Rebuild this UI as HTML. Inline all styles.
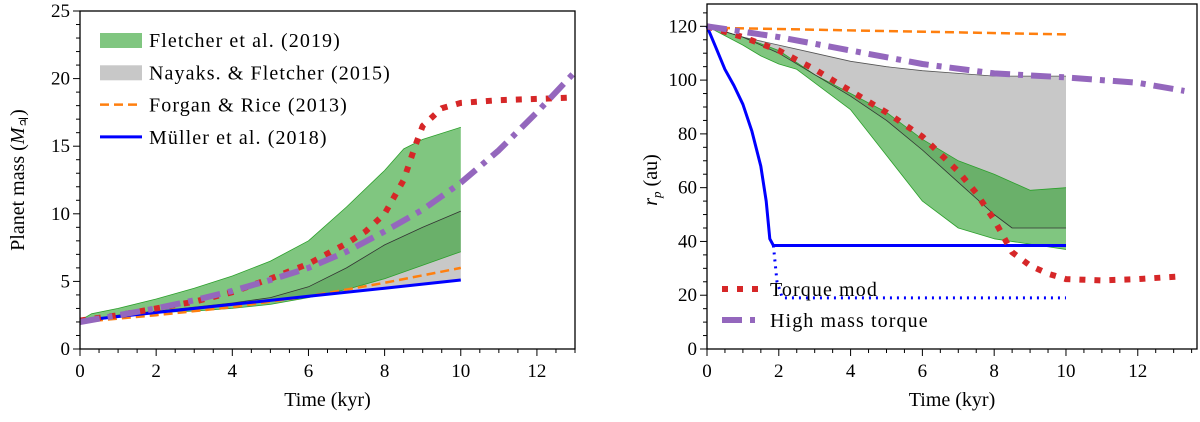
<!DOCTYPE html>
<html><head><meta charset="utf-8"><style>
body{margin:0;background:#fff}
svg{display:block;font-family:"Liberation Serif",serif}
</style></head><body>
<svg id="c" width="1200" height="422" viewBox="0 0 1200 422"></svg>
<script>
// ---- Left panel data (planet mass) ----
const LG_T=[0,0.3,1,2,3,4,5,6,7,8,8.5,9,10];
const LG_UP=[2.1,2.6,3.0,3.7,4.5,5.4,6.5,8.0,10.5,13.2,14.8,15.5,16.4];
const LG_LO_T=[0,1,2,3,4,5,6,7,8,9,10];
const LG_LO=[1.9,2.4,2.7,2.8,3.0,3.3,3.8,4.4,5.2,6.2,7.2];
const LGR_T=[0,1,2,3,4,5,6,7,8,9,10];
const LGR_UP=[2.0,2.5,2.8,3.1,3.4,3.8,4.6,6.0,7.7,9.0,10.2];
const MUL_T=[0,2,4,6,8,10];
const MUL=[2.1,2.7,3.3,3.9,4.5,5.1];
const FOR_T=[0,2,4,6,8,10];
const FOR=[2.0,2.5,3.1,3.9,4.9,6.0];
const RED_T=[0,1,2,3,4,5,6,7,7.5,8,8.5,8.8,9,9.5,10,11,12,13];
const RED=[2.1,2.5,3.0,3.5,4.2,5.2,6.3,7.8,8.7,10.0,12.5,15,16.5,17.8,18.2,18.4,18.5,18.6];
const PUR_T=[0,1,2,3,4,5,6,7,8,9,10,11,12,13];
const PUR=[2,2.5,3,3.6,4.3,5.1,6,7.2,8.7,10.3,12.3,14.7,17.5,20.5];
const L_XTICKS=[0,2,4,6,8,10,12];
const L_YTICKS=[0,5,10,15,20,25];
// ---- Right panel data (radius) ----
const RGR_T=[0,1,2,3,4,5,6,7,8,9,10];
const RGR_UP=[120,116,113,110,107,105,103.5,102.5,101.5,101.5,101.5];
const RGR_LO_T=[0,1,2,3,4,5,6,7,8,8.5,10];
const RGR_LO=[120,116,110,102,94,85,74,62,50,45,45];
const RG_UP_T=[0,1,2,3,4,5,6,7,8,9,10];
const RG_UP=[120,116,111,102,95,88,78,70,65,59,60];
const RG_LO_T=[0,1,1.5,2,2.5,3,4,5,6,7,8,9,10];
const RG_LO=[120,113,109,106,104,99,89,72,55,45,41,39,37];
const RFOR_T=[0,10];
const RFOR=[119.5,117];
const RPUR_T=[0,2,4,6,8,10,12,13.3];
const RPUR=[120,116,111,106,102.5,101,99,96];
const RRED_T=[0,1,2,3,4,5,6,7,7.5,8,8.5,9,9.5,10,11,12,13.2];
const RRED=[120,116,111,104,96,88,79,66,58,48,36,31,28,26,25.5,26,27];
const RBLU_T=[0,0.25,0.5,0.75,1,1.25,1.5,1.65,1.75,1.85,10];
const RBLU=[120,112,104,98,91,81,68,55,41,38.5,38.5];
const RBD_T=[1.85,1.95,2.1,10];
const RBD=[38.5,25,19,19];
const R_XTICKS=[0,2,4,6,8,10,12];
const R_YTICKS=[0,20,40,60,80,100,120];

const S=document.getElementById('c'),NS='http://www.w3.org/2000/svg';
function mk(t,a,p){const e=document.createElementNS(NS,t);for(const k in a)e.setAttribute(k,a[k]);(p||S).appendChild(e);return e;}
function panel(x0,x1,y0,y1,xmax,ymax){return{x:v=>x0+(x1-x0)*v/xmax,y:v=>y1-(y1-y0)*v/ymax,x0,x1,y0,y1};}
const L=panel(80,575,11,349,13,25);
const R=panel(707,1197,4,349,13.65,128.3);
function pts(A,T,V){return T.map((t,i)=>A.x(t).toFixed(1)+','+A.y(V[i]).toFixed(1));}
function band(A,Tu,U,Tl,Lo,fill,op,name){
  const p=pts(A,Tu,U).concat(pts(A,Tl,Lo).reverse());
  const e=mk('polygon',{points:p.join(' '),fill:fill,'fill-opacity':op});
  
  
}
function line(A,T,V,st,name){
  const e=mk('polyline',Object.assign({points:pts(A,T,V).join(' '),fill:'none','stroke-linejoin':'round'},st));
  
  
}
function axes(A,xt,yt,ymax,minorY,pfx){
  const g=mk('g',{});
  
  
  mk('rect',{x:A.x0,y:A.y0,width:A.x1-A.x0,height:A.y1-A.y0,fill:'none',stroke:'#000','stroke-width':1.3},g);
  for(let v=0;v<=13.6;v+=0.5){const x=A.x(v);if(x>A.x1)break;const maj=Math.abs(v%2)<1e-6;mk('line',{x1:x,x2:x,y1:A.y1,y2:A.y1+(maj?7:4),stroke:'#000','stroke-width':1},g);}
  xt.forEach(v=>{const t=mk('text',{x:A.x(v),y:A.y1+28,'text-anchor':'middle','font-size':19},g);t.textContent=v;
    });
  for(let v=0;v<=ymax;v+=minorY){const y=A.y(v);if(y<A.y0)break;const maj=yt.includes(+v.toFixed(3));mk('line',{x1:A.x0,x2:A.x0-(maj?7:4),y1:y,y2:y,stroke:'#000','stroke-width':1},g);}
  yt.forEach(v=>{const t=mk('text',{x:A.x0-10,y:A.y(v)+6,'text-anchor':'end','font-size':19},g);t.textContent=v;
    });
  const xl=mk('text',{x:(A.x0+A.x1)/2,y:A.y1+57,'text-anchor':'middle','font-size':20},g);xl.textContent='Time (kyr)';
  
}
// Left panel
band(L,LGR_T,LGR_UP,MUL_T,MUL,'#c8c8c8',1,'nayak-band');
band(L,LG_T,LG_UP,LG_LO_T,LG_LO,'rgb(44,160,44)',0.6,'fletcher-band');
line(L,LG_T,LG_UP,{stroke:'#2ca02c','stroke-width':0.8},'fletcher-upper-edge');
line(L,LG_LO_T,LG_LO,{stroke:'#2ca02c','stroke-width':0.8},'fletcher-lower-edge');
line(L,LGR_T,LGR_UP,{stroke:'#333','stroke-width':0.8},'nayak-upper-edge');
line(L,FOR_T,FOR,{stroke:'#ff7f0e','stroke-width':2.5,'stroke-dasharray':'9,5'},'forgan-line');
line(L,MUL_T,MUL,{stroke:'#0000ff','stroke-width':3},'muller-line');
line(L,RED_T,RED,{stroke:'#d62728','stroke-width':6,'stroke-dasharray':'6,9'},'torque-mod-line');
line(L,PUR_T,PUR,{stroke:'#9467bd','stroke-width':6,'stroke-dasharray':'20,8,5,8'},'high-mass-line');
axes(L,L_XTICKS,L_YTICKS,25,1,'left');
{const t=mk('text',{transform:'translate(24,180) rotate(-90)','text-anchor':'middle','font-size':20});
 t.innerHTML='Planet mass (<tspan font-style="italic">M</tspan><tspan font-size="13" dy="4">♃</tspan><tspan dy="-4">)</tspan>';
 }
// Left legend
const LEG=[['Fletcher et al. (2019)','patch','#80c680'],['Nayaks. & Fletcher (2015)','patch','#c8c8c8'],['Forgan & Rice (2013)','dash','#ff7f0e'],['Müller et al. (2018)','solid','#0000ff']];
LEG.forEach((d,i)=>{const y=40+i*32.3;const g=mk('g',{});
  
  if(d[1]=='patch')mk('rect',{x:100,y:y-7,width:42,height:15,fill:d[2]},g);
  else mk('line',{x1:100,x2:142,y1:y,y2:y,stroke:d[2],'stroke-width':d[1]=='dash'?2.5:3,'stroke-dasharray':d[1]=='dash'?'9,5':'none'},g);
  const t=mk('text',{x:149,y:y+7,'font-size':20,'letter-spacing':1.1},g);t.textContent=d[0];});
// Right panel
band(R,RGR_T,RGR_UP,RGR_LO_T,RGR_LO,'#c8c8c8',1,'nayak-band-right');
band(R,RG_UP_T,RG_UP,RG_LO_T,RG_LO,'rgb(44,160,44)',0.6,'fletcher-band-right');
line(R,RG_UP_T,RG_UP,{stroke:'#2ca02c','stroke-width':0.8},'fletcher-upper-edge-right');
line(R,RG_LO_T,RG_LO,{stroke:'#2ca02c','stroke-width':0.8},'fletcher-lower-edge-right');
line(R,RGR_T,RGR_UP,{stroke:'#555','stroke-width':0.8},'nayak-upper-edge-right');
line(R,RGR_LO_T,RGR_LO,{stroke:'#333','stroke-width':0.8},'nayak-lower-edge-right');
line(R,RFOR_T,RFOR,{stroke:'#ff7f0e','stroke-width':2.5,'stroke-dasharray':'9,5'},'forgan-line-right');
line(R,RBLU_T,RBLU,{stroke:'#0000ff','stroke-width':3},'muller-line-right');
line(R,RBD_T,RBD,{stroke:'#0000ff','stroke-width':3,'stroke-dasharray':'2,5'},'muller-dotted-right');
line(R,RRED_T,RRED,{stroke:'#d62728','stroke-width':6,'stroke-dasharray':'6,9'},'torque-mod-line-right');
line(R,RPUR_T,RPUR,{stroke:'#9467bd','stroke-width':6,'stroke-dasharray':'20,8,5,8'},'high-mass-line-right');
axes(R,R_XTICKS,R_YTICKS,128,5,'right');
{const t=mk('text',{transform:'translate(657,180) rotate(-90)','text-anchor':'middle','font-size':20});
 t.innerHTML='<tspan font-style="italic">r</tspan><tspan font-style="italic" font-size="13" dy="4">p</tspan><tspan dy="-4"> (au)</tspan>';
 }
[['Torque mod','#d62728','6,9',289],['High mass torque','#9467bd','20,8,5,8',320]].forEach(d=>{const g=mk('g',{});
  
  mk('line',{x1:722,x2:760,y1:d[3],y2:d[3],stroke:d[1],'stroke-width':6,'stroke-dasharray':d[2]},g);
  const t=mk('text',{x:770,y:d[3]+7,'font-size':20,'letter-spacing':1.1},g);t.textContent=d[0];});
</script>
</body></html>
